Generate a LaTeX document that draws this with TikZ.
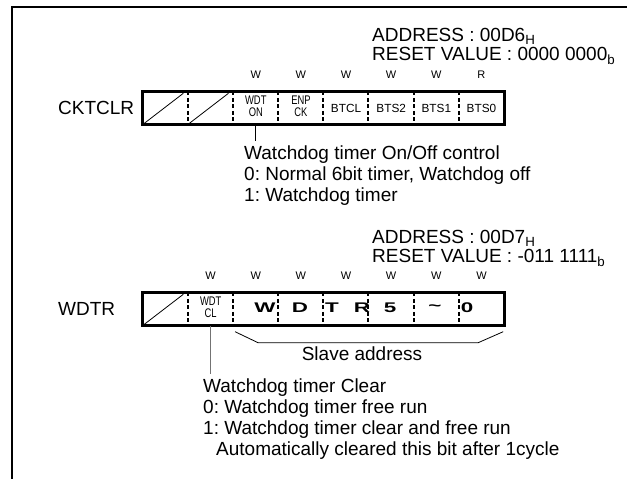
\documentclass[tikz,border=0pt]{standalone}
\usepackage{fontspec}
\setmainfont{Liberation Sans}
\usetikzlibrary{positioning, calc}
\newcommand{\narrowbit}[2]{\scalebox{0.75}[1]{\fontsize{12.5}{10.5}\selectfont\begin{tabular}{@{}c@{}}#1\\#2\end{tabular}}}
\tikzset{
	regframe/.style={draw, line width=3pt},
	bitdiv/.style={line width=2pt, dash pattern=on 4pt off 2.5pt},
	bitcell/.style={minimum width=45.125pt, minimum height=33pt, inner sep=0pt, align=center, font=\fontsize{11.8}{12}\selectfont},
	access/.style={inner sep=0pt, font=\fontsize{11}{11}\selectfont},
	regname/.style={anchor=west, inner sep=0pt, font=\fontsize{19}{21}\selectfont},
	note/.style={anchor=north west, align=left, inner sep=0pt, font=\fontsize{19}{21}\selectfont\frenchspacing},
	bigbit/.style={inner sep=0pt, font=\fontsize{14}{14}\selectfont\bfseries},
}

\begin{document}
\begin{tikzpicture}[x=1pt, y=-1pt,
					slash/.style={line width=0.8pt},
					leader/.style={line width=0.8pt}]
	\useasboundingbox (0,0) rectangle (627,479);
	\draw[line width=2.5pt] (12,479) -- (12,7) -- (627,7);
	% CKTCLR
	\node[note] (addr1) at (372,28) {ADDRESS : 00D6\textsubscript{H}\\[-1.5pt]RESET VALUE : 0000 0000\textsubscript{b}};
	\node[regname] (cktclr) at (58,108) {CKTCLR};
	\foreach \i/\t in {1/{},2/{},3/{\narrowbit{WDT}{ON}},4/{\narrowbit{ENP}{CK}},5/BTCL,6/BTS2,7/BTS1,8/BTS0}
		\node[bitcell] (c\i) at ({143+45.125*(\i-0.5)},108) {\t};
	\draw[regframe] (c1.north west) rectangle (c8.south east);
	\foreach \i in {2,...,8}
		\draw[bitdiv] (c\i.north west) -- (c\i.south west);
	\foreach \i in {1,2}
		\draw[slash] ($(c\i.south west)+(1,-1)$) -- ($(c\i.north east)+(-5,2)$);
	\foreach \i/\a in {3/W,4/W,5/W,6/W,7/W,8/R}
		\node[access, above=13pt of c\i] (a\i) {\a};
	\node[note] (desc1) at (244,145.5) {Watchdog timer On/Off control\\0: Normal 6bit timer, Watchdog off\\1: Watchdog timer};
	\draw[leader, shorten >=5pt] (c3.south) -- (c3.south |- desc1.north);
	% WDTR
	\node[note] (addr2) at (372,230) {ADDRESS : 00D7\textsubscript{H}\\[-1.5pt]RESET VALUE : -011 1111\textsubscript{b}};
	\node[regname] (wdtr) at (58,309) {WDTR};
	\foreach \i/\t in {1/{},2/{\narrowbit{WDT}{CL}},3/{},4/{},5/{},6/{},7/{},8/{}}
		\node[bitcell] (d\i) at ({143+45.125*(\i-0.5)},309) {\t};
	\draw[regframe] (d1.north west) rectangle (d8.south east);
	\foreach \i in {2,...,8}
		\draw[bitdiv] (d\i.north west) -- (d\i.south west);
	\draw[slash] ($(d1.south west)+(1,-1)$) -- ($(d1.north east)+(-5,2)$);
	\foreach \i in {2,...,8}
		\node[access, above=13pt of d\i] (w\i) {W};
	\foreach \ch/\x [count=\n] in {W/265,D/300,T/332,R/362,5/390,\textasciitilde/435,0/467}
		\node[bigbit] (big\n) at (\x,308) {\scalebox{1.6}[1]{\ch}};
	\draw[line width=0.8pt] ($(d3.south west)+(2,6)$) -- ++(23,11) -- ($(d8.south east)+(-26,17)$) -- ++(25,-11);
	\node[note, anchor=center] (slave) at (362,354) {Slave address};
	\node[note] (desc2) at (203,378.5) {Watchdog timer Clear\\0: Watchdog timer free run\\1: Watchdog timer clear and free run\\\hspace*{13pt}Automatically cleared this bit after 1cycle};
	\draw[leader, draw=black!55, line width=1.5pt, shorten >=5pt] (d2.south) -- (d2.south |- desc2.north);
\end{tikzpicture}
\end{document}
